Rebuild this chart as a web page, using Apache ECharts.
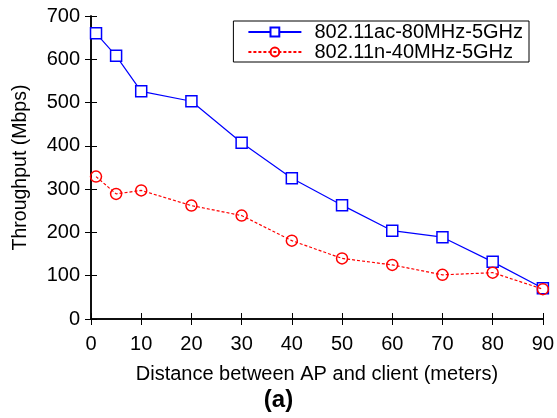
<!DOCTYPE html>
<html>
<head>
<meta charset="utf-8">
<script src="https://cdn.jsdelivr.net/npm/echarts@6/dist/echarts.min.js"></script>
<style>
  html, body { margin: 0; padding: 0; background: #fff; }
  #chart { width: 557px; height: 418px; }
</style>
</head>
<body>
<div id="chart"></div>
<script>
// distance (meters)
var distances = [1, 5, 10, 20, 30, 40, 50, 60, 70, 80, 90];
// throughput (Mbps)
var acThroughput = [660, 608, 526, 503, 407, 325, 263, 204, 189, 132, 71];
var nThroughput = [329, 289, 297, 262, 239, 181, 140, 125, 102, 107, 69];
var seriesNames = ['802.11ac-80MHz-5GHz', '802.11n-40MHz-5GHz'];

function pairs(xs, ys) {
  return xs.map(function (x, i) { return [x, ys[i]]; });
}

var font = 'Liberation Sans, Arial, sans-serif';
var chart = echarts.init(document.getElementById('chart'));

var tickStyle = { show: true, inside: true, length: 6, lineStyle: { color: '#000', width: 1 } };
var lineStyle = { show: true, lineStyle: { color: '#000', width: 1.5 } };

chart.setOption({
  animation: false,
  grid: { left: 91, right: 14, top: 16, bottom: 99 },
  legend: {
    orient: 'vertical',
    right: 28,
    top: 21,
    itemWidth: 53,
    itemHeight: 11,
    itemGap: 0,
    padding: [1, 6, 0, 14],
    borderColor: '#000',
    borderWidth: 1,
    borderRadius: 0,
    backgroundColor: '#fff',
    textStyle: { fontFamily: font, fontSize: 20, lineHeight: 20, color: '#000', padding: [0, 0, 0, 8] },
    data: seriesNames
  },
  xAxis: [{
    type: 'value', min: 0, max: 90, interval: 10,
    name: 'Distance between AP and client (meters)',
    nameLocation: 'middle', nameGap: 45,
    nameTextStyle: { fontFamily: font, fontSize: 20, color: '#000' },
    axisLine: lineStyle, axisTick: tickStyle,
    axisLabel: { fontFamily: font, fontSize: 20, color: '#000', margin: 15 },
    splitLine: { show: false }
  }, {
    type: 'value', min: 0, max: 90, interval: 10, position: 'top',
    axisLine: lineStyle, axisTick: tickStyle,
    axisLabel: { show: false }, splitLine: { show: false }
  }],
  yAxis: [{
    type: 'value', min: 0, max: 700, interval: 100,
    name: 'Throughput (Mbps)',
    nameLocation: 'middle', nameGap: 60, nameRotate: 90,
    nameTextStyle: { fontFamily: font, fontSize: 19.5, color: '#000' },
    axisLine: lineStyle, axisTick: tickStyle,
    axisLabel: { fontFamily: font, fontSize: 20, color: '#000', margin: 11 },
    splitLine: { show: false }
  }, {
    type: 'value', min: 0, max: 700, interval: 100, position: 'right',
    axisLine: lineStyle, axisTick: tickStyle,
    axisLabel: { show: false }, splitLine: { show: false }
  }],
  graphic: [{
    type: 'text', left: 'center', top: 388,
    style: { text: '(a)', fontFamily: font, fontSize: 24, fontWeight: 'bold', fill: '#000' }
  }],
  series: [{
    name: seriesNames[0],
    type: 'line',
    data: pairs(distances, acThroughput),
    symbol: 'rect', symbolSize: 11,
    itemStyle: { color: '#fff', borderColor: '#0000ff', borderWidth: 1.5 },
    lineStyle: { color: '#0000ff', width: 1.2 },
    z: 3
  }, {
    name: seriesNames[1],
    type: 'line',
    data: pairs(distances, nThroughput),
    symbol: 'circle', symbolSize: 11,
    itemStyle: { color: 'rgba(0,0,0,0)', borderColor: '#ff0000', borderWidth: 1.5 },
    lineStyle: { color: '#ff0000', width: 1.2, type: [3, 2] },
    z: 4
  }]
});
</script>
</body>
</html>
